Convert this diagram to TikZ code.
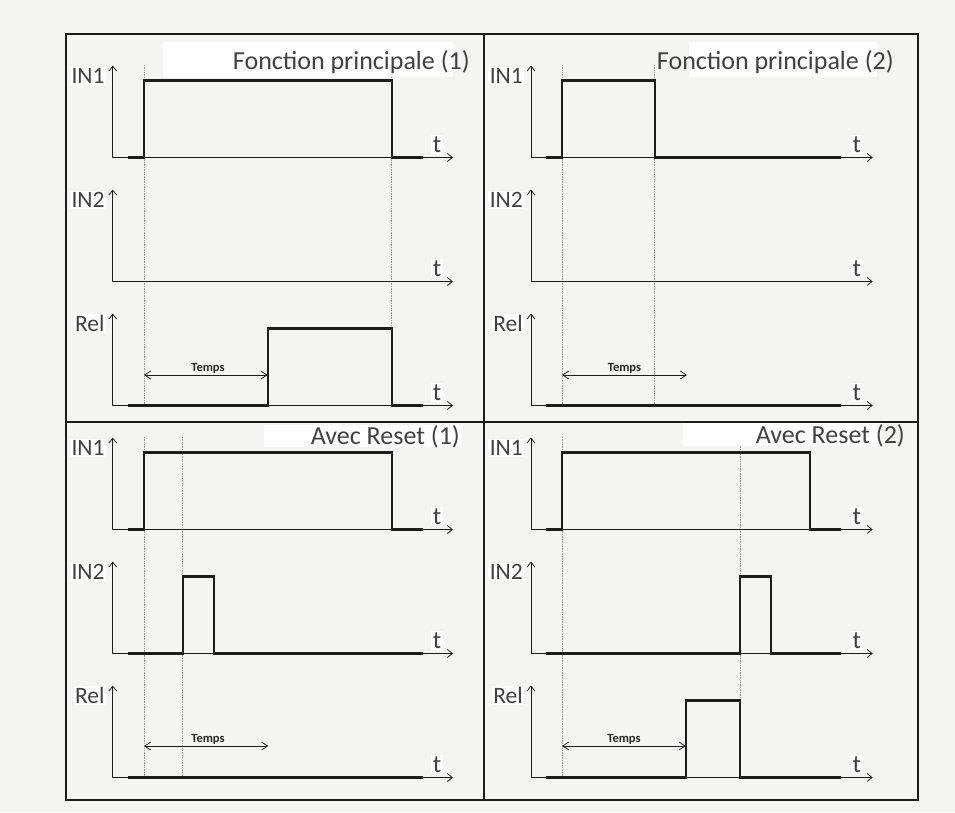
\documentclass[tikz,border=0pt]{standalone}
\usepackage{fontspec}
\setmainfont{Carlito}
\usetikzlibrary{arrows.meta}
\definecolor{bgcol}{HTML}{F4F4F2}
\definecolor{txt}{HTML}{414141}
\definecolor{sig}{HTML}{1C1C1C}
\begin{document}
\begin{tikzpicture}[x=1pt,y=-1pt,
  frame/.style={line width=2pt, draw=sig},
  axis/.style={line width=0.9pt, draw=sig,
    {Straight Barb[length=5pt,width=8pt,line width=0.8pt]}-{Straight Barb[length=5pt,width=8pt,line width=0.8pt]}},
  signal/.style={line width=2.2pt, draw=sig, line join=miter},
  guide/.style={line width=0.7pt, draw=gray!80, densely dotted},
  dim/.style={line width=0.9pt, draw=sig,
    {Straight Barb[length=6pt,width=8pt,line width=0.8pt]}-{Straight Barb[length=6pt,width=8pt,line width=0.8pt]}},
  lab/.style={fill=white, text=txt, font=\fontsize{23.5}{23.5}\selectfont, inner sep=1.5pt, anchor=base east},
  tlab/.style={fill=white, text=txt, font=\fontsize{25}{25}\selectfont, inner sep=1.5pt, anchor=base east},
  title/.style={text=txt, font=\fontsize{26}{26}\selectfont, inner sep=0pt, anchor=base east},
  temps/.style={text=black!85, font=\bfseries\fontsize{12.5}{12.5}\selectfont, inner sep=0pt, anchor=base},
  wbox/.style={fill=white, draw=none}
]
\useasboundingbox (0,0) rectangle (955,812);
\fill[bgcol] (0,0) rectangle (955,812);

% ---------- dotted guides ----------
\draw[guide] (144,65) -- (144,405.5);
\draw[guide] (391.7,65) -- (391.7,405.5);
\draw[guide] (562,65) -- (562,405.5);
\draw[guide] (654.7,65) -- (654.7,405.5);
\draw[guide] (144,437) -- (144,777.5);
\draw[guide] (182.7,437) -- (182.7,777.5);
\draw[guide] (562,437) -- (562,777.5);
\draw[guide] (740,437) -- (740,777.5);

% ---------- white title boxes ----------
\fill[wbox] (163,42) rectangle (453,77);
\fill[wbox] (689,42) rectangle (877,77);
\fill[wbox] (264,425) rectangle (462,446.7);
\fill[wbox] (683,422.7) rectangle (881,446);

% ---------- axes ----------
\foreach \b in {157.5,281.5,405.5,529.5,653.5,777.5}{
  \draw[axis] (112.7,\b-92) -- (112.7,\b) -- (453,\b);
  \draw[axis] (531,\b-92) -- (531,\b) -- (872.7,\b);
}

% ---------- frame ----------
\draw[frame] (66,34) rectangle (918,800);
\draw[frame] (484,34) -- (484,800);
\draw[frame] (66,421.7) -- (918,421.7);

% ---------- signals: Fonction principale (1) ----------
\draw[signal] (128,157.5) -- (144,157.5) -- (144,80.5) -- (391.7,80.5) -- (391.7,157.5) -- (422.7,157.5);
\draw[signal] (128,405.5) -- (267.7,405.5) -- (267.7,328.5) -- (391.7,328.5) -- (391.7,405.5) -- (422.7,405.5);
\draw[dim] (144,375) -- (267.7,375);
\node[temps] (tA) at (208,371.5) {Temps};

% ---------- signals: Fonction principale (2) ----------
\draw[signal] (546,157.5) -- (562,157.5) -- (562,80.5) -- (654.7,80.5) -- (654.7,157.5) -- (841,157.5);
\draw[signal] (546,405.5) -- (841,405.5);
\draw[dim] (562,375) -- (687,375);
\node[temps] (tB) at (624.5,371.5) {Temps};

% ---------- signals: Avec Reset (1) ----------
\draw[signal] (128,529.5) -- (144,529.5) -- (144,452.5) -- (391.7,452.5) -- (391.7,529.5) -- (422.7,529.5);
\draw[signal] (128,653.5) -- (182.7,653.5) -- (182.7,576.5) -- (214,576.5) -- (214,653.5) -- (422.7,653.5);
\draw[signal] (128,777.5) -- (422.7,777.5);
\draw[dim] (144,746) -- (268.3,746);
\node[temps] (tC) at (208,742.5) {Temps};

% ---------- signals: Avec Reset (2) ----------
\draw[signal] (546,529.5) -- (562,529.5) -- (562,452.5) -- (810,452.5) -- (810,529.5) -- (841,529.5);
\draw[signal] (546,653.5) -- (740,653.5) -- (740,576.5) -- (771,576.5) -- (771,653.5) -- (841,653.5);
\draw[signal] (546,777.5) -- (685.7,777.5) -- (685.7,700.5) -- (740,700.5) -- (740,777.5) -- (841,777.5);
\draw[dim] (562,746) -- (685.7,746);
\node[temps] (tD) at (624,742.5) {Temps};

% ---------- axis labels ----------
\foreach \b/\n/\s in {157.5/IN1/a,281.5/IN2/b,405.5/Rel/c,529.5/IN1/d,653.5/IN2/e,777.5/Rel/f}{
  \node[lab] (L\s) at (106.2,\b-74) {\n};
  \node[lab] (R\s) at (524.5,\b-74) {\n};
  \node[tlab] (Lt\s) at (443,\b-5) {t};
  \node[tlab] (Rt\s) at (862.7,\b-5) {t};
}

% ---------- titles ----------
\node[title] (T1) at (470,69.3) {Fonction principale (1)};
\node[title] (T2) at (894,69.3) {Fonction principale (2)};
\node[title] (T3) at (460,444.5) {Avec Reset (1)};
\node[title] (T4) at (905,443.5) {Avec Reset (2)};
\end{tikzpicture}
\end{document}
